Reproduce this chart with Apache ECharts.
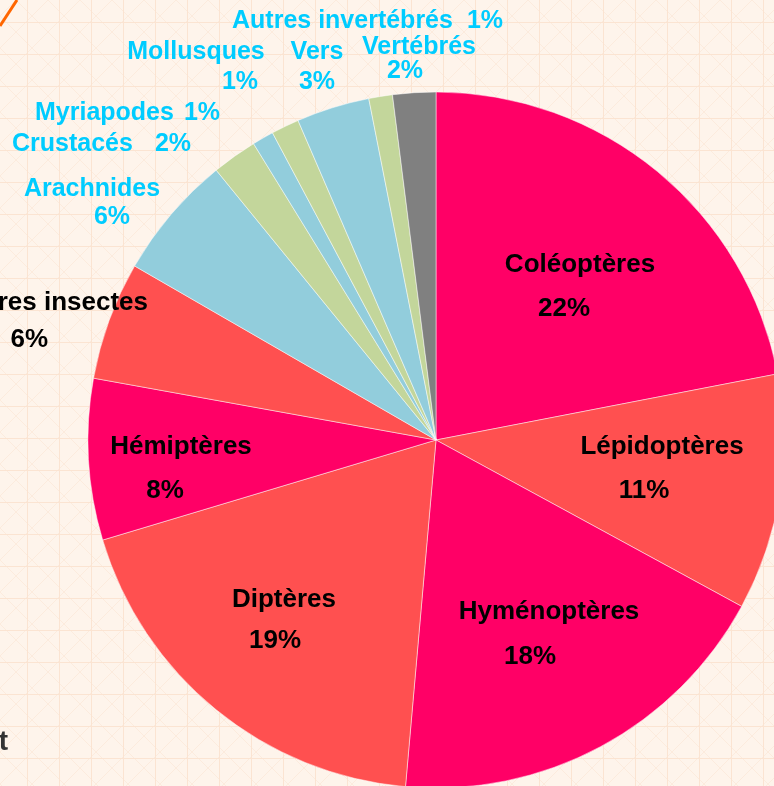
<!DOCTYPE html>
<html>
<head>
<meta charset="utf-8">
<script src="https://cdn.jsdelivr.net/npm/echarts@6/dist/echarts.min.js"></script>
<style>
    html, body { margin: 0; padding: 0; }
    #pied { width: 774px; height: 786px; }
</style>
</head>
<body>
<div id="pied"></div>
<script>
// données (sens horaire depuis midi)
var categories = ['Coléoptères', 'Lépidoptères', 'Hyménoptères', 'Diptères', 'Hémiptères', 'Autres insectes',
    'Arachnides', 'Crustacés', 'Myriapodes', 'Mollusques', 'Vers', 'Autres invertébrés', 'Vertébrés'];
var shares = [22, 11, 18.5, 19, 7.5, 5.5, 5.8, 2.1, 1.0, 1.3, 3.4, 1.1, 2.0];
var shownPct = ['22%', '11%', '18%', '19%', '8%', '6%', '6%', '2%', '1%', '1%', '3%', '1%', '2%'];
var isInsect = [true, true, true, true, true, true, false, false, false, false, false, false, false];

var colors = ['#FF0066', '#FF5050', '#FF0066', '#FF5050', '#FF0066', '#FF5050',
    '#92CDDC', '#C3D69B', '#92CDDC', '#C3D69B', '#92CDDC', '#C3D69B', '#808080'];

// placement des étiquettes : x, y, align, interligne (0 = une ligne), marge du pourcentage
var labelPos = [
    [580, 287, 'center', 44, [0, 32, 0, 0]],
    [662, 469, 'center', 44, [0, 36, 0, 0]],
    [549, 634, 'center', 45, [0, 38, 0, 0]],
    [284, 620, 'center', 41, [0, 18, 0, 0]],
    [181, 469, 'center', 44, [0, 32, 0, 0]],
    [148, 321, 'right', 37, [0, 100, 0, 0]],
    [92, 203, 'center', 28, [0, 0, 0, 40]],
    [12, 144, 'left', 0, [0, 0, 0, 22]],
    [35, 113, 'left', 0, [0, 0, 0, 10]],
    [196, 67, 'center', 30, [0, 0, 0, 88]],
    [317, 67, 'center', 30, [0, 0, 0, 0]],
    [232, 21, 'left', 0, [0, 0, 0, 14]],
    [419, 59, 'center', 24, [0, 28, 0, 0]]
];

// fond quadrillé
function makeTile() {
    var c = document.createElement('canvas');
    c.width = 32; c.height = 32;
    var g = c.getContext('2d');
    g.fillStyle = '#fef4eb';
    g.fillRect(0, 0, 32, 32);
    g.strokeStyle = '#fcebdd';
    g.lineWidth = 1;
    g.beginPath();
    g.moveTo(0, 16); g.lineTo(16, 0); g.lineTo(32, 16); g.lineTo(16, 32); g.closePath();
    g.stroke();
    g.strokeStyle = '#fbe4d2';
    g.beginPath();
    g.moveTo(27.5, 0); g.lineTo(27.5, 32);
    g.moveTo(0, 22.5); g.lineTo(32, 22.5);
    g.stroke();
    return c.toDataURL();
}
document.getElementById('pied').style.backgroundImage = 'url(' + makeTile() + ')';

var seriesData = categories.map(function (name, i) {
    var p = labelPos[i];
    var fmt = p[3] ? '{n|' + name + '}\n{p|' + shownPct[i] + '}' : '{n|' + name + '}{p|' + shownPct[i] + '}';
    var col = isInsect[i] ? '#000000' : '#00CCFF';
    var fs = isInsect[i] ? 26 : 25;
    var lh = p[3] || 30;
    return {
        name: name,
        value: shares[i],
        itemStyle: { color: colors[i] },
        label: {
            formatter: fmt,
            rich: {
                n: { color: col, fontSize: fs, fontWeight: 'bold', fontFamily: 'Liberation Sans', lineHeight: lh },
                p: { color: col, fontSize: fs, fontWeight: 'bold', fontFamily: 'Liberation Sans', lineHeight: lh, padding: p[4] }
            }
        }
    };
});

var chart = echarts.init(document.getElementById('pied'), null, { renderer: 'canvas' });
var option = {
    backgroundColor: 'transparent',
    animation: false,
    graphic: [
        {
            type: 'line',
            shape: { x1: 0, y1: 26, x2: 17, y2: 0 },
            style: { stroke: '#FF6600', lineWidth: 3 }
        },
        {
            type: 'text',
            x: 8, y: 742,
            style: { text: 't', align: 'right', verticalAlign: 'middle', fill: '#333333',
                font: 'bold 28px "Liberation Sans"' }
        }
    ],
    series: [
        {
            name: 'Espèces',
            type: 'pie',
            center: [436, 440],
            radius: 348,
            startAngle: 90,
            clockwise: true,
            avoidLabelOverlap: false,
            itemStyle: { borderColor: 'rgba(255,255,255,0.8)', borderWidth: 0.6 },
            label: { show: true, position: 'inside' },
            labelLine: { show: false },
            labelLayout: function (params) {
                var p = labelPos[params.dataIndex];
                return { x: p[0], y: p[1], align: p[2], verticalAlign: 'middle' };
            },
            emphasis: { disabled: true },
            data: seriesData
        }
    ]
};
chart.setOption(option);
</script>
</body>
</html>
